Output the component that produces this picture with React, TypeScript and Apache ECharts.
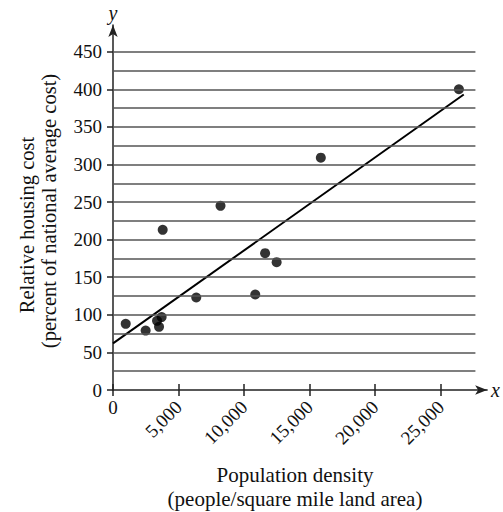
import React, { useEffect, useRef } from "react";
import * as echarts from "echarts";

// ---- data ----
const densityX = [970, 2490, 3360, 3510, 3710, 3790, 6350, 8200, 10850, 11600, 12480, 15850, 26380];
const housingY = [88, 79, 92, 84, 97, 213, 123, 245, 127, 182, 170, 309, 400];
const fitLineX = [0, 26750];
const fitLineY = [62, 393];
const xTickValues = [0, 5000, 10000, 15000, 20000, 25000];
const yTickValues = [0, 50, 100, 150, 200, 250, 300, 350, 400, 450];
const gridLineValues = [25, 50, 75, 100, 125, 150, 175, 200, 225, 250, 275, 300, 325, 350, 375, 400, 425, 450];
const yTitleLines = ["Relative housing cost", "(percent of national average cost)"];
const xTitleLines = ["Population density", "(people/square mile land area)"];

const X_MAX = 28533;
const Y_MAX = 485.5;
const GRID_X_END = 27640;
const FONT = "Liberation Serif";

export default function App() {
  const ref = useRef<HTMLDivElement>(null);
  useEffect(() => {
    if (!ref.current) return;
    const chart = echarts.init(ref.current, undefined, { renderer: "svg" });
    const lastX = xTickValues[xTickValues.length - 1];
    const lastY = yTickValues[yTickValues.length - 1];
    const fmtRot = (v: number) => (v > 0 && v <= lastX ? v.toLocaleString("en-US") : "");
    const fmtZero = (v: number) => (v === 0 ? "0" : "");
    const fmtY = (v: number) => (v <= lastY ? String(v) : "");
    const labelStyle = { fontFamily: FONT, fontSize: 19, color: "#111" };
    chart.setOption({
      animation: false,
      backgroundColor: "#fff",
      textStyle: { fontFamily: FONT },
      grid: { left: 113, top: 25, right: 8, bottom: 122, containLabel: false },
      xAxis: [
        {
          type: "value",
          min: 0,
          max: X_MAX,
          interval: 5000,
          position: "bottom",
          name: "x",
          nameLocation: "end",
          nameGap: 4,
          nameTextStyle: { fontFamily: FONT, fontStyle: "italic", fontSize: 20, color: "#111" },
          axisLine: { show: true, onZero: false, symbol: ["none", "arrow"], symbolSize: [7, 12], lineStyle: { color: "#222", width: 1.5 } },
          axisTick: { show: true, inside: false, length: 6, customValues: xTickValues, lineStyle: { color: "#222", width: 1.5 } },
          axisLabel: {
            show: true,
            rotate: 45,
            margin: 14,
            showMinLabel: true,
            showMaxLabel: true,
            hideOverlap: false,
            formatter: fmtRot,
            ...labelStyle,
          },
          splitLine: { show: false },
        },
        {
          type: "value",
          min: 0,
          max: X_MAX,
          interval: 5000,
          position: "bottom",
          axisLine: { show: false },
          axisTick: { show: true, inside: true, length: 6, customValues: xTickValues, lineStyle: { color: "#222", width: 1.5 } },
          axisLabel: { show: true, margin: 8, formatter: fmtZero, ...labelStyle },
          splitLine: { show: false },
        },
      ],
      yAxis: {
        type: "value",
        min: 0,
        max: Y_MAX,
        interval: 50,
        name: "y",
        nameLocation: "end",
        nameGap: 2,
        nameTextStyle: { fontFamily: FONT, fontStyle: "italic", fontSize: 20, color: "#111" },
        axisLine: { show: true, onZero: false, symbol: ["none", "arrow"], symbolSize: [7, 12], lineStyle: { color: "#222", width: 1.5 } },
        axisTick: { show: true, inside: false, length: 6, customValues: yTickValues, lineStyle: { color: "#222", width: 1.5 } },
        axisLabel: { show: true, margin: 11, formatter: fmtY, ...labelStyle },
        splitLine: { show: false },
      },
      series: [
        {
          type: "line",
          data: [],
          silent: true,
          z: 1,
          markLine: {
            silent: true,
            symbol: ["none", "none"],
            label: { show: false },
            lineStyle: { color: "#555", width: 1.5, type: "solid" },
            data: gridLineValues.map((v) => [{ coord: [0, v] }, { coord: [GRID_X_END, v] }]),
          },
        },
        {
          type: "line",
          data: fitLineX.map((x, i) => [x, fitLineY[i]]),
          showSymbol: false,
          symbol: "none",
          z: 3,
          lineStyle: { color: "#000", width: 2 },
        },
        {
          type: "scatter",
          data: densityX.map((x, i) => [x, housingY[i]]),
          symbolSize: 10,
          z: 4,
          itemStyle: { color: "#000" },
        },
      ],
      graphic: [
        {
          type: "text",
          x: 27,
          y: 225,
          rotation: Math.PI / 2,
          style: { text: yTitleLines[0], font: `20.5px ${FONT}`, fill: "#111", align: "center", verticalAlign: "middle" },
        },
        {
          type: "text",
          x: 49,
          y: 211,
          rotation: Math.PI / 2,
          style: { text: yTitleLines[1], font: `20.5px ${FONT}`, fill: "#111", align: "center", verticalAlign: "middle" },
        },
        {
          type: "text",
          x: 295,
          y: 475,
          style: { text: xTitleLines[0], font: `21px ${FONT}`, fill: "#111", align: "center", verticalAlign: "middle" },
        },
        {
          type: "text",
          x: 295,
          y: 499,
          style: { text: xTitleLines[1], font: `21px ${FONT}`, fill: "#111", align: "center", verticalAlign: "middle" },
        },
      ],
    });
    return () => chart.dispose();
  }, []);
  return <div ref={ref} style={{ position: "fixed", left: 0, top: 0, width: 503, height: 512 }} />;
}
